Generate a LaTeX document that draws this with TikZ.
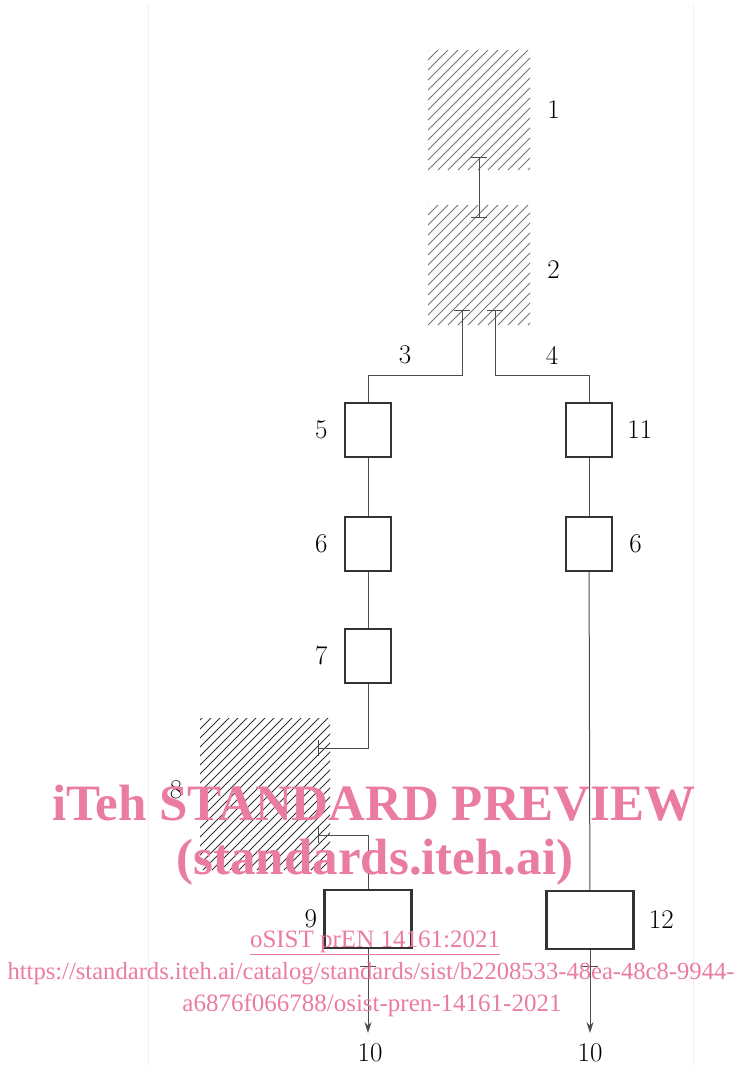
\documentclass[tikz,border=0pt]{standalone}
\usepackage{fontspec}
\newfontfamily\wmfont{Liberation Serif}
\usepackage{xcolor}
\usetikzlibrary{arrows.meta,positioning}
\definecolor{wmpink}{RGB}{234,124,160}

\begin{document}
\begin{tikzpicture}[
  x=1pt,y=-1pt,
  zone/.style={minimum width=102pt,minimum height=120pt,inner sep=0pt,
               path picture={\foreach \i in {-200,-190,...,200}
                 \draw[black!55,line width=0.9pt]
                   ([xshift=\i pt]path picture bounding box.south west) -- ++(260pt,260pt);}},
  darkzone/.style={minimum width=130pt,minimum height=152pt,inner sep=0pt,
               path picture={\foreach \i in {-240,-231,...,240}
                 \draw[black!80,line width=0.9pt]
                   ([xshift=\i pt]path picture bounding box.south west) -- ++(300pt,300pt);}},
  block/.style={draw=black!80,line width=2.4pt,minimum width=46pt,minimum height=54pt,inner sep=0pt},
  wideblock/.style={block,minimum width=87pt,minimum height=58pt},
  tag/.style={inner sep=0pt,font=\fontsize{27}{29}\selectfont},
  link/.style={draw=black!70,line width=1pt},
  tend/.style={link,{Bar[width=16pt,line width=1pt]}-},
  tboth/.style={link,{Bar[width=16pt,line width=1pt]}-{Bar[width=16pt,line width=1pt]}},
  outflow/.style={link,{Bar[width=16pt,line width=1pt]}-{Stealth[length=11pt,width=7pt]}},
  wmtext/.style={text=wmpink,font=\wmfont}
]
\useasboundingbox (0,0) rectangle (740,1066);
% faint page edges
\draw[black!6,line width=0.8pt] (148,5) -- (148,1066);
\draw[black!6,line width=0.8pt] (693,5) -- (693,1066);

% hatched zones
\node[zone] (zone1) at (479,110) {};
\node[zone] (zone2) at (479,265) {};
\node[darkzone] (zone8) at (265,794) {};
\node[tag,right=17pt of zone1] (t1) {1};
\node[tag,right=17pt of zone2,yshift=-5pt] (t2) {2};
\node[tag] (t8) at (176,790) {8};

% left branch
\node[block] (box5) at (368,430) {};
\node[block,below=57.6pt of box5] (box6a) {};
\node[block,below=55.6pt of box6a] (box7) {};
\node[wideblock] (box9) at (368,919) {};
\node[tag,left=16pt of box5] (t5) {5};
\node[tag,left=16pt of box6a] (t6a) {6};
\node[tag,left=16pt of box7] (t7) {7};
\node[tag,left=6pt of box9] (t9) {9};

% right branch
\node[block] (box11) at (589,430) {};
\node[block,below=57.6pt of box11] (box6b) {};
\node[wideblock] (box12) at (590,920) {};
\node[tag,right=14pt of box11] (t11) {11};
\node[tag,right=16pt of box6b] (t6b) {6};
\node[tag,right=14pt of box12] (t12) {12};

% connection points
\coordinate (a1) at (479,157);
\coordinate (a2) at (479,218);
\coordinate (s3) at (462,310);
\coordinate (s4) at (495,310);
\coordinate (k3) at (368,375);
\coordinate (k4) at (589,375);
\coordinate (in8) at (318,748);
\coordinate (out8) at (318,835);
\coordinate (b9) at (368,966);
\coordinate (b12) at (590,966);
\coordinate (e9) at (368,1033);
\coordinate (e12) at (590,1033);

\draw[tboth] (a1) -- (a2);
\draw[tend] (s3) |- (k3) -- (box5.north);
\draw[tend] (s4) |- (k4) -- (box11.north);
\node[tag] (t3) at (405,355) {3};
\node[tag] (t4) at (552,355) {4};

\draw[link] (box5) -- (box6a);
\draw[link] (box6a) -- (box7);
\draw[link,-{Bar[width=16pt,line width=1pt]}] (box7.south) |- (in8);
\draw[tend] (out8) -| (box9.north);
\draw[link] (box11) -- (box6b);
\draw[link] (box6b) -- (box12);

\draw[link] (box9.south) -- (b9);
\draw[outflow] (b9) -- (e9);
\draw[link] (box12.south) -- (b12);
\draw[outflow] (b12) -- (e12);
\node[tag] (t10a) at (370,1053) {10};
\node[tag] (t10b) at (590,1053) {10};

% watermark
\node[wmtext,font=\wmfont\bfseries\fontsize{51}{56}\selectfont] (wm1) at (374,803) {iTeh STANDARD PREVIEW};
\node[wmtext,font=\wmfont\bfseries\fontsize{51}{56}\selectfont] (wm2) at (375,862) {(standards.iteh.ai)};
\node[wmtext,font=\wmfont\fontsize{25}{28}\selectfont] (wm3) at (375,943) {\underline{oSIST prEN 14161:2021}};
\node[wmtext,font=\wmfont\fontsize{24.6}{28}\selectfont] (wm4) at (371,974) {https://standards.iteh.ai/catalog/standards/sist/b2208533-48ea-48c8-9944-};
\node[wmtext,font=\wmfont\fontsize{25}{28}\selectfont] (wm5) at (372,1005) {a6876f066788/osist-pren-14161-2021};
\end{tikzpicture}
\end{document}
